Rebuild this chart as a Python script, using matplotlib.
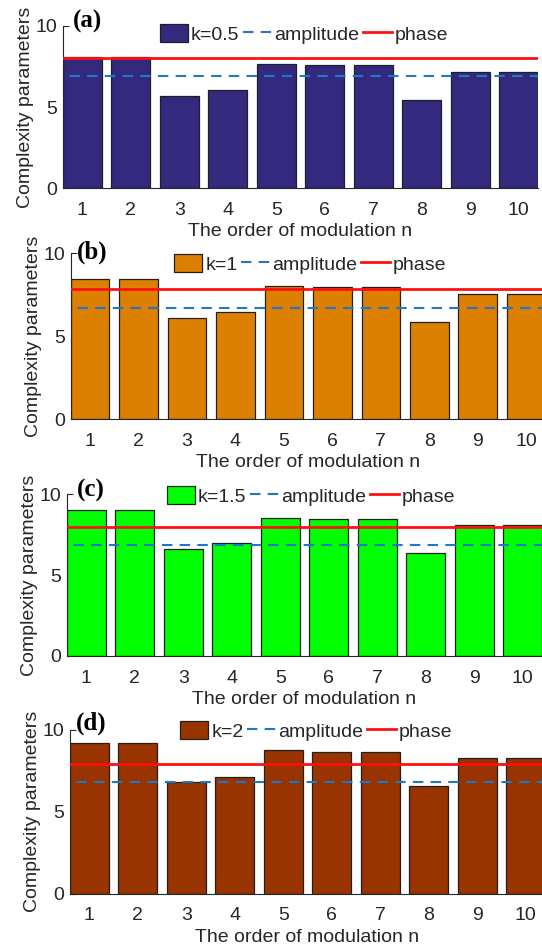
import numpy as np
import matplotlib.pyplot as plt

plt.rcParams['font.family'] = ['Liberation Sans', 'DejaVu Sans']

# red n (1..10)
n = np.arange(1, 11)

# vrednosti stubica za svaki k
bars_a = [8.11, 8.11, 5.69, 6.06, 7.66, 7.62, 7.62, 5.46, 7.19, 7.19]
bars_b = [8.47, 8.47, 6.12, 6.49, 8.03, 7.95, 7.95, 5.88, 7.57, 7.57]
bars_c = [8.99, 8.99, 6.58, 6.95, 8.54, 8.48, 8.48, 6.34, 8.07, 8.07]
bars_d = [9.21, 9.21, 6.82, 7.14, 8.76, 8.67, 8.67, 6.57, 8.29, 8.29]

k_labels = ['k=0.5', 'k=1', 'k=1.5', 'k=2']
panel_labels = ['(a)', '(b)', '(c)', '(d)']

# horizontalne linije (amplituda i faza) za svaki panel
amplitude = [6.90, 6.71, 6.85, 6.84]
phase = [8.05, 7.85, 7.98, 7.92]

colors = ['#33297f', '#dd7f00', '#00ff00', '#993300']

# pozicije osa u pikselima: levo, dole (y0), gore (y10)
W, H = 542, 947
pos = [(63, 188.3, 26), (70.7, 419.3, 253.3), (67, 656, 494), (70, 893.5, 730)]
ax_w = 475
leg_y = [34, 264, 496, 731]
leg_x = [304, 310, 311, 316]
lab_pos = [(73, 21.5), (77, 252), (77, 490), (76, 723)]

fig = plt.figure(figsize=(W / 100, H / 100), dpi=100)

all_bars = [bars_a, bars_b, bars_c, bars_d]
for i in range(4):
	l, y0, y10 = pos[i]
	ax = fig.add_axes([l / W, 1 - y0 / H, ax_w / W, (y0 - y10) / H])
	b = ax.bar(n, all_bars[i], width=0.8, color=colors[i], edgecolor='#202020',
			   linewidth=0.9, zorder=2)
	la, = ax.plot([0, 11], [amplitude[i]] * 2, color='#1f77c8',
				  ls=(0, (5, 3.5)), lw=1.5, zorder=3)
	lp, = ax.plot([0, 11], [phase[i]] * 2, color='#ff1010', lw=2, zorder=3)

	ax.set_xlim(0.6, 10.4)
	ax.set_ylim(0, 10)
	ax.set_xticks(n)
	ax.set_yticks([0, 5, 10])
	ax.spines['top'].set_visible(False)
	ax.spines['right'].set_visible(False)
	for s in ['left', 'bottom']:
		ax.spines[s].set_color('#262626')
		ax.spines[s].set_linewidth(0.8)
	ax.tick_params(direction='in', length=4, width=0.8, colors='#262626',
				   labelsize=14, labelcolor='#262626')
	ax.tick_params(axis='x', pad=10)
	ax.tick_params(axis='y', pad=4)
	ax.set_xlabel('The order of modulation n', fontsize=14, color='#262626',
				  labelpad=3)
	ax.set_ylabel('Complexity parameters', fontsize=14, color='#262626',
				  labelpad=1)

	ax.legend([b, la, lp], [k_labels[i], 'amplitude', 'phase'],
			  loc='center', bbox_to_anchor=(leg_x[i] / W, 1 - leg_y[i] / H),
			  bbox_transform=fig.transFigure, ncol=3, frameon=False,
			  fontsize=14, handlelength=1.45, handleheight=1.05,
			  handletextpad=0.15, columnspacing=0.2, borderpad=0,
			  labelcolor='#262626')

	fig.text(lab_pos[i][0] / W, 1 - lab_pos[i][1] / H, panel_labels[i],
			 family='Liberation Serif', fontweight='bold', fontsize=18,
			 va='center', ha='left')

fig.savefig('out.png', dpi=100)
